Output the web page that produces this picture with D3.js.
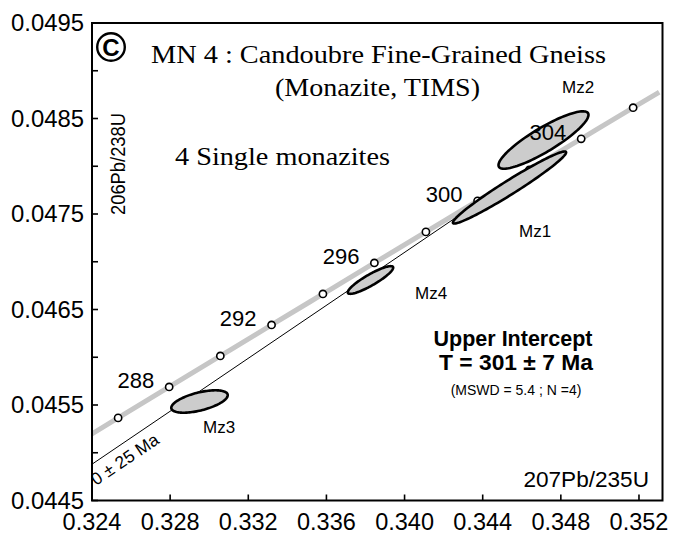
<!DOCTYPE html>
<html><head><meta charset="utf-8">
<script src="https://cdn.jsdelivr.net/npm/d3@7"></script>
<style>body{margin:0;background:#fff;overflow:hidden}</style>
</head><body><svg id="c" width="675" height="535"></svg>
<script>
// ---- data ----
const xTicks=[0.324,0.328,0.332,0.336,0.340,0.344,0.348,0.352];
const xTickLabels=["0.324","0.328","0.332","0.336","0.340","0.344","0.348","0.352"];
const yTicks=[0.0445,0.0455,0.0465,0.0475,0.0485,0.0495];
const yTickLabels=["0.0445","0.0455","0.0465","0.0475","0.0485","0.0495"];
const yMinorTicks=[0.045,0.046,0.047,0.048,0.049];

// concordia curve (grey) points
const concAge=[284,286,288,290,292,294,296,298,300,302,304,306,307];
const concX=[0.322730,0.325337,0.327950,0.330569,0.333192,0.335821,0.338455,0.341093,0.343738,0.346387,0.349041,0.351701,0.353033];
const concY=[0.0450403,0.0453647,0.0456891,0.0460135,0.0463382,0.0466627,0.0469876,0.0473124,0.0476374,0.0479626,0.0482876,0.0486131,0.0487756];
const markerAges=[286,288,290,292,294,296,298,300,302,304,306];
const labeledAges=[288,292,296,300,304];

// discordia (lower intercept 0 Ma -> upper intercept 301 Ma)
const discX=[0.324,0.345062];
const discY=[0.04488,0.04780];

// single monazite analyses (2 sigma ellipses)
const grainNames=["Mz1","Mz2","Mz3","Mz4"];
const grainX=[0.345372,0.347112,0.329503,0.338256];
const grainSX=[0.0028982,0.0023033,0.0014448,0.0011614];
const grainY=[0.0477775,0.0482748,0.0455366,0.0468089];
const grainSY=[0.0003768,0.00030037,0.00011729,0.00014496];
const grainRho=[0.9737,0.8754,0.5646,0.8904];
const grainLabelX=[0.345858,0.348059,0.329682,0.340534];
const grainLabelY=[0.047259,0.048767,0.045207,0.04661];

// ---- layout ----
const L=92,T=23,R=662.5,B=500.5;
const svg=d3.select("#c");
const x=d3.scaleLinear().domain([0.324,0.324+(R-L)/78.14*0.004]).range([L,R]);
const y=d3.scaleLinear().domain([0.0445,0.0495]).range([B,T]);
const sans="'Liberation Sans',Arial,Helvetica,sans-serif";
const serif="'Liberation Serif','Times New Roman',serif";

svg.append("rect").attr("width",675).attr("height",535).attr("fill","#fff");
svg.append("clipPath").attr("id","clip").append("rect")
  .attr("x",L).attr("y",T).attr("width",R-L).attr("height",B-T);
const plot=svg.append("g").attr("clip-path","url(#clip)");

// concordia
const conc=concAge.map((a,i)=>({a,x:concX[i],y:concY[i]}));
plot.append("path").datum(conc)
  .attr("d",d3.line().x(d=>x(d.x)).y(d=>y(d.y)).curve(d3.curveMonotoneX))
  .attr("fill","none").attr("stroke","#c6c6c6").attr("stroke-width",5);

// discordia
plot.append("path").datum(discX.map((v,i)=>[v,discY[i]]))
  .attr("d",d3.line().x(d=>x(d[0])).y(d=>y(d[1])))
  .attr("fill","none").attr("stroke","#000").attr("stroke-width",1);

// age markers
plot.selectAll("circle.m").data(conc.filter(d=>markerAges.includes(d.a))).join("circle")
  .attr("class","m").attr("cx",d=>x(d.x)).attr("cy",d=>y(d.y)).attr("r",3.6)
  .attr("fill","#fff").attr("stroke","#000").attr("stroke-width",1.6);

// ellipses
const angles=d3.range(0,2*Math.PI,Math.PI/60);
const grains=grainNames.map((n,i)=>({n,cx:grainX[i],sx:grainSX[i],cy:grainY[i],sy:grainSY[i],r:grainRho[i],lx:grainLabelX[i],ly:grainLabelY[i]}));
const eline=d3.line().curve(d3.curveLinearClosed);
plot.selectAll("path.e").data(grains).join("path").attr("class","e")
  .attr("d",g=>eline(angles.map(t=>[
     x(g.cx+g.sx*Math.cos(t)),
     y(g.cy+g.sy*(g.r*Math.cos(t)+Math.sqrt(1-g.r*g.r)*Math.sin(t)))])))
  .attr("fill","#cccccc").attr("stroke","#000").attr("stroke-width",2.6);

// age labels
svg.selectAll("text.age").data(conc.filter(d=>labeledAges.includes(d.a))).join("text")
  .attr("class","age").attr("x",d=>x(d.x)-15).attr("y",d=>y(d.y)+1)
  .attr("text-anchor","end").attr("font-family",sans).attr("font-size",22)
  .text(d=>d.a);

// grain labels
svg.selectAll("text.g").data(grains).join("text").attr("class","g")
  .attr("x",g=>x(g.lx)).attr("y",g=>y(g.ly))
  .attr("font-family",sans).attr("font-size",17).text(g=>g.n);

// discordia label
svg.append("text").attr("transform","translate(96,486) rotate(-34)")
  .attr("font-family",sans).attr("font-size",17.5).text("0 \u00b1 25 Ma");

// frame
svg.append("rect").attr("x",L).attr("y",T).attr("width",R-L).attr("height",B-T)
  .attr("fill","none").attr("stroke","#000").attr("stroke-width",2);

// ticks
svg.append("g").selectAll("line").data(xTicks).join("line")
  .attr("x1",d=>x(d)).attr("x2",d=>x(d)).attr("y1",B).attr("y2",B-6)
  .attr("stroke","#000").attr("stroke-width",1.6);
svg.append("g").selectAll("line").data(yTicks.concat(yMinorTicks)).join("line")
  .attr("y1",d=>y(d)).attr("y2",d=>y(d)).attr("x1",L).attr("x2",L+6)
  .attr("stroke","#000").attr("stroke-width",1.6);
svg.append("g").selectAll("text").data(xTicks).join("text")
  .attr("x",d=>x(d)).attr("y",530).attr("text-anchor","middle")
  .attr("font-family",sans).attr("font-size",23.5).text((d,i)=>xTickLabels[i]);
svg.append("g").selectAll("text").data(yTicks).join("text")
  .attr("x",84).attr("y",d=>y(d)).attr("dy","0.35em").attr("text-anchor","end")
  .attr("font-family",sans).attr("font-size",23)
  .attr("textLength",73).attr("lengthAdjust","spacingAndGlyphs")
  .text((d,i)=>yTickLabels[i]);

// axis titles
svg.append("text").attr("x",649).attr("y",487).attr("text-anchor","end")
  .attr("font-family",sans).attr("font-size",22.6).text("207Pb/235U");
svg.append("text").attr("transform","translate(125,164) rotate(-90)").attr("text-anchor","middle")
  .attr("font-family",sans).attr("font-size",21)
  .attr("textLength",102).attr("lengthAdjust","spacingAndGlyphs").text("206Pb/238U");

// title block
svg.append("circle").attr("cx",111).attr("cy",47).attr("r",13.8)
  .attr("fill","none").attr("stroke","#000").attr("stroke-width",2.4);
svg.append("text").attr("x",111).attr("y",55.5).attr("text-anchor","middle")
  .attr("font-family",sans).attr("font-weight","bold").attr("font-size",24).text("C");
svg.append("text").attr("x",378.5).attr("y",63).attr("text-anchor","middle")
  .attr("font-family",serif).attr("font-size",24.5)
  .attr("textLength",455).attr("lengthAdjust","spacingAndGlyphs")
  .text("MN 4 : Candoubre Fine-Grained Gneiss");
svg.append("text").attr("x",377.5).attr("y",96).attr("text-anchor","middle")
  .attr("font-family",serif).attr("font-size",24.5)
  .attr("textLength",205).attr("lengthAdjust","spacingAndGlyphs")
  .text("(Monazite, TIMS)");
svg.append("text").attr("x",175).attr("y",165)
  .attr("font-family",serif).attr("font-size",24.5)
  .attr("textLength",215).attr("lengthAdjust","spacingAndGlyphs")
  .text("4 Single monazites");

// result box
svg.append("text").attr("x",513).attr("y",346).attr("text-anchor","middle")
  .attr("font-family",sans).attr("font-weight","bold").attr("font-size",21.5).text("Upper Intercept");
svg.append("text").attr("x",516).attr("y",370).attr("text-anchor","middle")
  .attr("font-family",sans).attr("font-weight","bold").attr("font-size",22.8).text("T = 301 \u00b1 7 Ma");
svg.append("text").attr("x",516).attr("y",395).attr("text-anchor","middle")
  .attr("font-family",sans).attr("font-size",14).text("(MSWD = 5.4 ; N =4)");
</script></body></html>
